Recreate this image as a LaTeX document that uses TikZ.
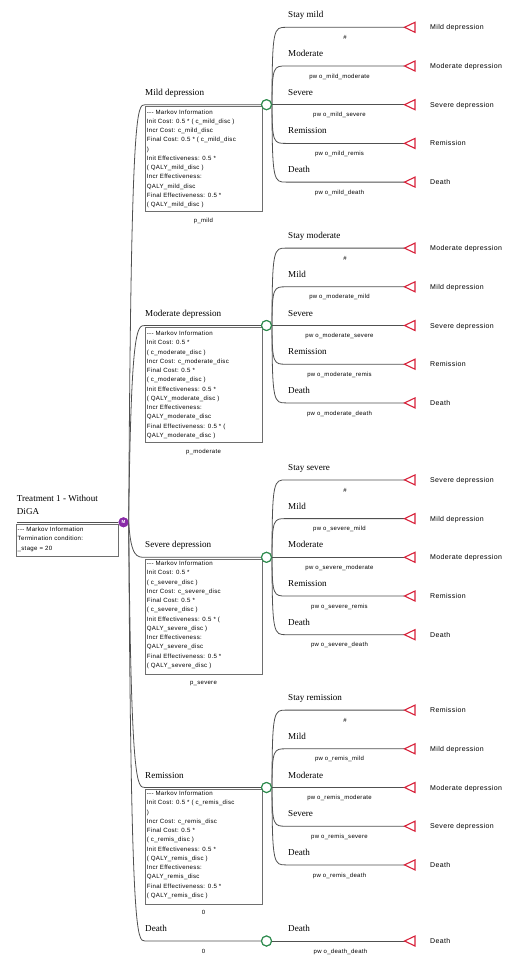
\documentclass[tikz,border=0pt]{standalone}
\usepackage{fontspec}
\setmainfont{Liberation Serif}
\newfontfamily\sansls[LetterSpace=5]{Liberation Sans}
\newfontfamily\sansplain{Liberation Sans}
\usetikzlibrary{calc}
\definecolor{lin}{HTML}{505050}
\definecolor{boxc}{HTML}{6E6E6E}
\definecolor{tric}{HTML}{D8213A}
\definecolor{chc}{HTML}{2E8B4E}
\definecolor{mkv}{HTML}{8A2BA8}
\tikzset{
 br/.style={draw=lin, line width=0.8pt},
 boxr/.style={draw=boxc, line width=0.8pt},
 lab/.style={font=\fontsize{9.1}{12.4}\selectfont, anchor=west, inner sep=0pt, text height=6pt, text depth=0pt},
 prob/.style={font=\sansls\fontsize{6}{7}\selectfont, anchor=center, inner sep=0pt, text height=4.3pt, text depth=0pt},
 term/.style={font=\sansls\fontsize{7}{8}\selectfont, anchor=west, inner sep=0pt, text height=5pt, text depth=0pt},
 info/.style={font=\sansls\fontsize{6.1}{9.25}\selectfont, align=left, anchor=north west, inner sep=0pt},
 chance/.style={circle, draw=chc, line width=1.1pt, fill=white, minimum size=10pt, inner sep=0pt},
 markov/.style={circle, fill=mkv, minimum size=10pt, inner sep=0pt, text=white, font=\sansplain\bfseries\fontsize{4.5}{5}\selectfont},
 tri/.style={draw=tric, line width=1.1pt, line join=miter, fill=white}
}
\newcommand\fan[2]{%
 \foreach \dy/\lb/\px/\pb/\tm [count=\i] in {#2} {
   \coordinate (#1s\i) at ($(#1)+(19.5,\dy)$);
   \coordinate (#1t\i) at ($(#1)+(138,\dy)$);
   \draw[br] (#1.east) .. controls ($(#1)+(5.5,\dy)$) and ($(#1)+(7.5,\dy)$) .. (#1s\i) -- (#1t\i);
   \draw[tri] (#1t\i) -- ++(10.5,5) -- ++(0,-10) -- cycle;
   \node[lab] (#1l\i) at ($(#1)+(21.5,\dy-12.5)$) {\lb};
   \node[prob] (#1p\i) at ($(#1)+(\px,\dy+10)$) {\pb};
   \node[term] (#1e\i) at ($(#1)+(163.5,\dy)$) {\tm};
 }}
\begin{document}
\begin{tikzpicture}[x=1pt,y=-1pt]
\useasboundingbox (0,0) rectangle (506,970);

% root
\node[lab, anchor=north west, align=left, text height=, text depth=] (title) at (16.7,495.1) {Treatment 1 - Without\\DiGA};
\node[markov] (M) at (123.5,522.3) {M};
\coordinate (R) at (16.7,522.3);
\draw[br] (R) -- (M.west);
\draw[boxr] (16.7,523.9) rectangle (118.3,556);
\node[info] (rinfo) at (17.5,527) {-{}-{}- Markov Information\\Termination condition:\\\_stage = 20};

% chance nodes
\node[chance] (cm) at (266.5,104.7) {};
\node[chance] (co) at (266.5,325.5) {};
\node[chance] (cs) at (266.5,557.3) {};
\node[chance] (cr) at (266.5,787.5) {};
\node[chance] (cd) at (266.5,941) {};

% left branches
\foreach \nm/\cy in {cm/104.7, co/325.5, cs/557.3, cr/787.5, cd/941} {
  \coordinate (\nm L) at (145,\cy);
  \draw[br] (M.east) .. controls (131,\cy) and (137,\cy) .. (\nm L) -- (\nm.west);
}

% Mild depression
\node[lab] (lm) at (145,92.2) {Mild depression};
\draw[boxr] (145,106.3) rectangle (262,211.7);
\node[info] (im) at (146.7,109.4) {-{}-{}- Markov Information\\Init Cost: 0.5 * ( c\_mild\_disc )\\Incr Cost: c\_mild\_disc\\Final Cost: 0.5 * ( c\_mild\_disc\\)\\Init Effectiveness: 0.5 *\\( QALY\_mild\_disc )\\Incr Effectiveness:\\QALY\_mild\_disc\\Final Effectiveness: 0.5 *\\( QALY\_mild\_disc )};
\node[prob] (pm) at (203.5,220.5) {p\_mild};

% Moderate depression
\node[lab] (lo) at (145,313) {Moderate depression};
\draw[boxr] (145,327.1) rectangle (262,442.7);
\node[info] (io) at (146.7,331) {-{}-{}- Markov Information\\Init Cost: 0.5 *\\( c\_moderate\_disc )\\Incr Cost: c\_moderate\_disc\\Final Cost: 0.5 *\\( c\_moderate\_disc )\\Init Effectiveness: 0.5 *\\( QALY\_moderate\_disc )\\Incr Effectiveness:\\QALY\_moderate\_disc\\Final Effectiveness: 0.5 * (\\QALY\_moderate\_disc )};
\node[prob] (po) at (203.5,451.2) {p\_moderate};

% Severe depression
\node[lab] (ls) at (145,544.8) {Severe depression};
\draw[boxr] (145,558.9) rectangle (262,674);
\node[info] (is) at (146.7,561) {-{}-{}- Markov Information\\Init Cost: 0.5 *\\( c\_severe\_disc )\\Incr Cost: c\_severe\_disc\\Final Cost: 0.5 *\\( c\_severe\_disc )\\Init Effectiveness: 0.5 * (\\QALY\_severe\_disc )\\Incr Effectiveness:\\QALY\_severe\_disc\\Final Effectiveness: 0.5 *\\( QALY\_severe\_disc )};
\node[prob] (ps) at (203.5,682.5) {p\_severe};

% Remission
\node[lab] (lr) at (145,775) {Remission};
\draw[boxr] (145,789.1) rectangle (262,904);
\node[info] (ir) at (146.7,791) {-{}-{}- Markov Information\\Init Cost: 0.5 * ( c\_remis\_disc\\)\\Incr Cost: c\_remis\_disc\\Final Cost: 0.5 *\\( c\_remis\_disc )\\Init Effectiveness: 0.5 *\\( QALY\_remis\_disc )\\Incr Effectiveness:\\QALY\_remis\_disc\\Final Effectiveness: 0.5 *\\( QALY\_remis\_disc )};
\node[prob] (pr) at (203.5,912.5) {0};

% Death
\node[lab] (ld) at (145,928.5) {Death};
\node[prob] (pd) at (203.5,951) {0};

% fans
\fan{cm}{-77.4/Stay mild/78.5/\#/Mild depression, -38.7/Moderate/73/pw o\_mild\_moderate/Moderate depression, 0/Severe/73/pw o\_mild\_severe/Severe depression, 38.7/Remission/73/pw o\_mild\_remis/Remission, 77.4/Death/73/pw o\_mild\_death/Death}
\fan{co}{-77.4/Stay moderate/78.5/\#/Moderate depression, -38.7/Mild/73/pw o\_moderate\_mild/Mild depression, 0/Severe/73/pw o\_moderate\_severe/Severe depression, 38.7/Remission/73/pw o\_moderate\_remis/Remission, 77.4/Death/73/pw o\_moderate\_death/Death}
\fan{cs}{-77.4/Stay severe/78.5/\#/Severe depression, -38.7/Mild/73/pw o\_severe\_mild/Mild depression, 0/Moderate/73/pw o\_severe\_moderate/Moderate depression, 38.7/Remission/73/pw o\_severe\_remis/Remission, 77.4/Death/73/pw o\_severe\_death/Death}
\fan{cr}{-77.4/Stay remission/78.5/\#/Remission, -38.7/Mild/73/pw o\_remis\_mild/Mild depression, 0/Moderate/73/pw o\_remis\_moderate/Moderate depression, 38.7/Severe/73/pw o\_remis\_severe/Severe depression, 77.4/Death/73/pw o\_remis\_death/Death}
\fan{cd}{0/Death/74/pw o\_death\_death/Death}

% redraw chance circles on top
\foreach \nm in {cm,co,cs,cr,cd} { \node[chance] at (\nm) {}; }
\node[markov] at (M) {M};
\end{tikzpicture}
\end{document}
